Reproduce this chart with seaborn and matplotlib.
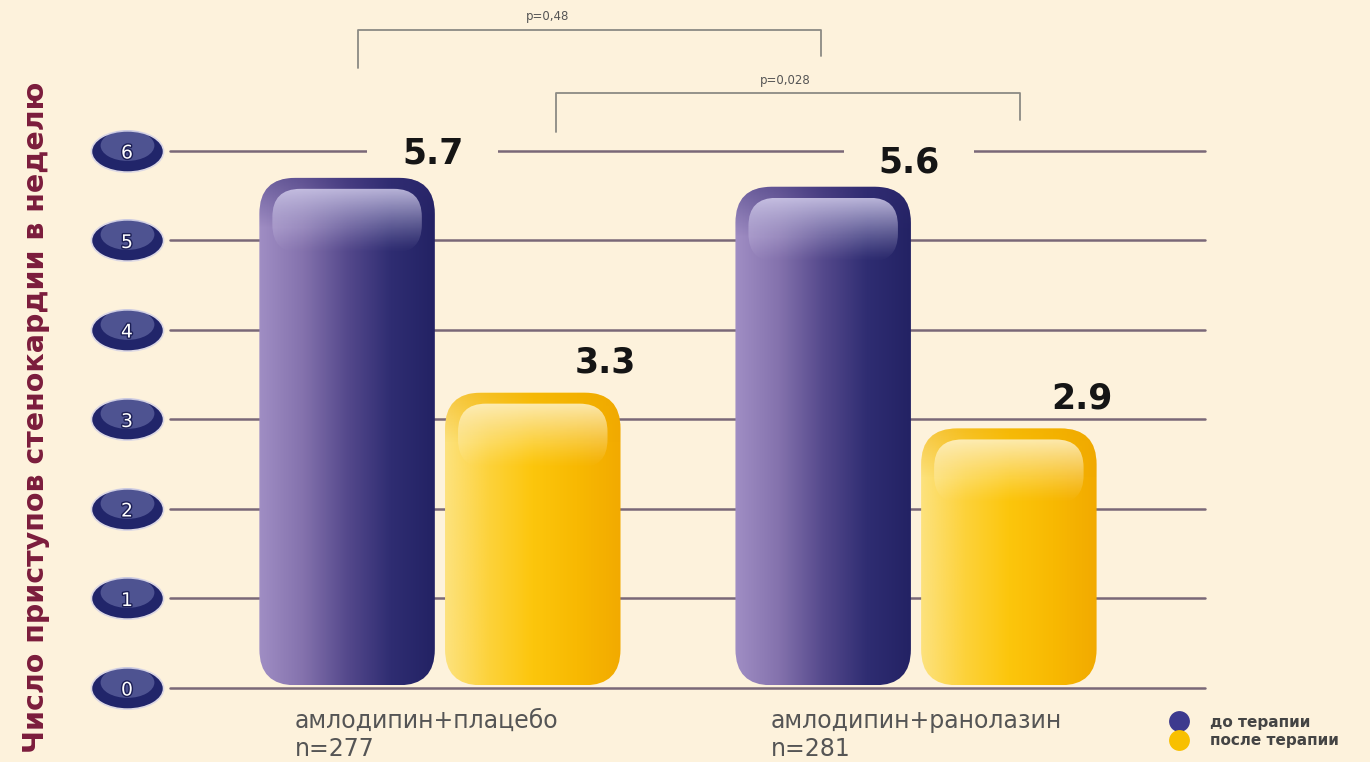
import numpy as np
import pandas as pd
import matplotlib
matplotlib.use("Agg")
import matplotlib.pyplot as plt
import seaborn as sns
from matplotlib.patches import FancyBboxPatch
from matplotlib.path import Path
from matplotlib.lines import Line2D
from matplotlib.transforms import Affine2D, ScaledTranslation
import matplotlib.patheffects as pe

# ---- data -------------------------------------------------------------
groups = ["амлодипин+плацебо\nn=277", "амлодипин+ранолазин\nn=281"]
phases = ["до терапии", "после терапии"]
before = [5.7, 5.6]
after = [3.3, 2.9]
y_ticks = [0, 1, 2, 3, 4, 5, 6]
p_values = ["p=0,48", "p=0,028"]
y_title = "Число приступов стенокардии в неделю"

# ---- style ------------------------------------------------------------
BG = "#fdf2dc"
GRID = "#7a6878"
PURPLE_STOPS = ["#a08ec4", "#8472ad", "#55498c", "#2f2d72", "#232264"]
YELLOW_STOPS = ["#fde27e", "#fdd23a", "#fcc60c", "#f8b902", "#f2aa00"]
PURPLE_GLOSS = (0.86, 0.84, 0.95)
YELLOW_GLOSS = (1.0, 0.97, 0.85)
PURPLE_RIM = (0.20, 0.17, 0.45)
YELLOW_RIM = (0.93, 0.66, 0.0)

sns.set_theme(style="white")
plt.rcParams["font.family"] = ["DejaVu Sans"]

df = pd.DataFrame({
    "group": groups * 2,
    "phase": [phases[0]] * len(groups) + [phases[1]] * len(groups),
    "value": before + after,
})

W, H = 1370, 762
fig = plt.figure(figsize=(W / 100, H / 100), dpi=100, facecolor=BG)
ax_left, ax_right, ax_bottom = 170, 1205, 688
ax = fig.add_axes([ax_left / W, (H - ax_bottom) / H,
                   (ax_right - ax_left) / W, ax_bottom / H])
ax.set_facecolor(BG)

sns.barplot(data=df, x="group", y="value", hue="phase", order=groups,
            hue_order=phases, palette=[PURPLE_STOPS[2], YELLOW_STOPS[2]],
            width=0.78, gap=0.055, legend=False, ax=ax)

XLIM = (-0.567, 1.607)
YLIM = (0, 7.687)
ax.set_xlim(*XLIM)
ax.set_ylim(*YLIM)

px_x = (ax_right - ax_left) / (XLIM[1] - XLIM[0])   # pixels per x unit
px_y = ax_bottom / (YLIM[1] - YLIM[0])              # pixels per y unit
aspect = px_x / px_y


def hgrad(stops, n=256):
    cols = np.array([matplotlib.colors.to_rgb(c) for c in stops])
    pos = np.linspace(0, 1, len(stops))
    t = np.linspace(0, 1, n)
    return np.stack([np.interp(t, pos, cols[:, k]) for k in range(3)], axis=-1)


def rounded(x0, y0, w, h, r_px):
    return FancyBboxPatch((x0, y0), w, h,
                          boxstyle=f"round,pad=0,rounding_size={r_px / px_x}",
                          mutation_aspect=aspect, facecolor="none",
                          edgecolor="none", transform=ax.transData)


def glossy_bar(x0, w, h, stops, gloss, rim_col):
    outer = rounded(x0, 0.03, w, h - 0.03, 36)
    ax.add_patch(outer)
    body = hgrad(stops)[None, :, :].repeat(4, axis=0)
    im = ax.imshow(body, extent=(x0, x0 + w, 0.03, h), aspect="auto",
                   interpolation="bicubic", zorder=3)
    im.set_clip_path(outer)

    # slightly deeper rim along the top
    n = 64
    rim = np.zeros((n, 2, 4))
    rim[:, :, :3] = rim_col
    rim[:, :, 3] = np.linspace(0.45, 0.0, n)[:, None]
    rim_h = 50 / px_y
    im2 = ax.imshow(rim, extent=(x0, x0 + w, h - rim_h, h), aspect="auto",
                    interpolation="bicubic", zorder=3.1)
    im2.set_clip_path(outer)

    # glossy highlight inside the top of the bar
    ins_x = 13 / px_x
    top_gap = 11 / px_y
    gh = 64 / px_y
    inner = rounded(x0 + ins_x, h - top_gap - gh, w - 2 * ins_x, gh, 28)
    ax.add_patch(inner)
    g = np.zeros((n, 2, 4))
    g[:, :, :3] = gloss
    g[:, :, 3] = (np.linspace(1.0, 0.0, n) ** 1.2 * 0.8)[:, None]
    im3 = ax.imshow(g, extent=(x0 + ins_x, x0 + w - ins_x,
                               h - top_gap - gh, h - top_gap),
                    aspect="auto", interpolation="bicubic", zorder=3.2)
    im3.set_clip_path(inner)


stops_by_hue = [PURPLE_STOPS, YELLOW_STOPS]
gloss_by_hue = [PURPLE_GLOSS, YELLOW_GLOSS]
rim_by_hue = [PURPLE_RIM, YELLOW_RIM]
for hi, cont in enumerate(ax.containers):
    for bar, val in zip(cont.patches, cont.datavalues):
        bar.set_visible(False)
        x0, w = bar.get_x(), bar.get_width()
        glossy_bar(x0, w, val, stops_by_hue[hi], gloss_by_hue[hi],
                   rim_by_hue[hi])
        label = f"{val:.1f}"
        if hi == 0:
            ax.text(x0 + w - 2 / px_x, val + 0.27, label, ha="center",
                    va="center", fontsize=25, fontweight="bold",
                    color="#151515", zorder=1.5,
                    bbox=dict(boxstyle="square,pad=1.0", fc=BG, ec="none"))
        else:
            ax.text(x0 + w - 15 / px_x, val + 0.34, label, ha="center",
                    va="center", fontsize=25, fontweight="bold",
                    color="#151515", zorder=4)

ax.set_xlim(*XLIM)
ax.set_ylim(*YLIM)

# ---- grid / axes ------------------------------------------------------
ax.grid(axis="y", color=GRID, linewidth=1.8)
ax.grid(axis="x", visible=False)
ax.set_axisbelow(True)
for s in ax.spines.values():
    s.set_visible(False)

ax.set_yticks(y_ticks)
ax.set_yticklabels([str(t) for t in y_ticks])
for gl in ax.get_ygridlines():
    gl.set_clip_on(False)
ax.tick_params(axis="y", length=0, pad=31, labelsize=13.5, labelcolor="white")
for lab in ax.get_yticklabels():
    lab.set_horizontalalignment("center")
    lab.set_path_effects([pe.withStroke(linewidth=2, foreground="#1c1f55")])

# oval badges behind the y tick numbers
ell = Path.unit_circle().transformed(Affine2D().scale(1.75, 1.0))
x_badge = XLIM[0] - 43 / px_x
ax.scatter([x_badge] * len(y_ticks), y_ticks, marker=ell, s=2700,
           c="#21256a", edgecolors="#dcd8e4", linewidths=1.2,
           clip_on=False, zorder=0.3)
ax.scatter([x_badge] * len(y_ticks), np.array(y_ticks) + 6 / px_y,
           marker=ell, s=1500, c="#a3aadb", alpha=0.35, linewidths=0,
           clip_on=False, zorder=0.4)

ax.set_xlabel("")
ax.tick_params(axis="x", length=0, pad=15, labelsize=17, labelcolor="#555555")
for lab in ax.get_xticklabels():
    lab.set_horizontalalignment("left")
    lab.set_multialignment("left")
    lab.set_transform(lab.get_transform() +
                      ScaledTranslation(-145 / 100, 0, fig.dpi_scale_trans))

ax.set_ylabel(y_title, fontsize=20.5, fontweight="bold", color="#7b1c3c")
ax.yaxis.set_label_coords(-0.116, 0.394)

# ---- significance brackets -------------------------------------------
brackets = [
    # x_left, x_right, y_top, y_left_end, y_right_end, text_x, text_y
    (-0.172, 0.800, 7.35, 6.93, 7.06, 0.227, 7.50),
    (0.244, 1.218, 6.65, 6.21, 6.35, 0.725, 6.79),
]
for (xl, xr, yt, yl, yr, tx, ty), ptxt in zip(brackets, p_values):
    ax.plot([xl, xl, xr, xr], [yl, yt, yt, yr], color="#8c8a84", lw=1.3,
            clip_on=False, zorder=2)
    ax.text(tx, ty, ptxt, ha="center", va="center", fontsize=8.5,
            color="#555555")

# ---- legend -------------------------------------------------------------
handles = [
    Line2D([], [], ls="", marker="o", markersize=15,
           markerfacecolor="#3d3a8e", markeredgecolor="none"),
    Line2D([], [], ls="", marker="o", markersize=15,
           markerfacecolor="#f8c000", markeredgecolor="none"),
]
fig.legend(handles, phases, loc="upper left",
           bbox_to_anchor=(1164 / W, 1 - 707 / H), frameon=False,
           handlelength=1.0, handletextpad=1.5, labelspacing=0.25,
           borderpad=0, prop=dict(weight="bold", size=11),
           labelcolor="#444444")

fig.savefig("out.png", dpi=100, facecolor=BG)
